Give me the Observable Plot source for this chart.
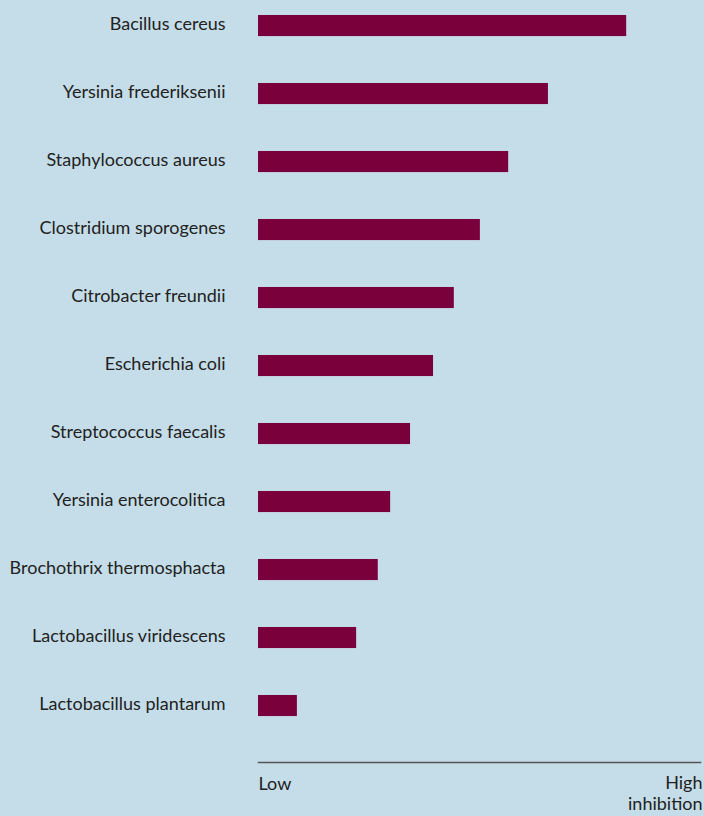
<!DOCTYPE html>
<html>
<head>
<meta charset="utf-8">
<script src="https://cdn.jsdelivr.net/npm/d3@7"></script>
<script src="https://cdn.jsdelivr.net/npm/@observablehq/plot@0.6"></script>
<style>
  html, body { margin: 0; padding: 0; background: #c5dde8; }
  #chart svg { display: block; }
</style>
</head>
<body>
<div id="chart"></div>
<script>
const species = [
  "Bacillus cereus",
  "Yersinia frederiksenii",
  "Staphylococcus aureus",
  "Clostridium sporogenes",
  "Citrobacter freundii",
  "Escherichia coli",
  "Streptococcus faecalis",
  "Yersinia enterocolitica",
  "Brochothrix thermosphacta",
  "Lactobacillus viridescens",
  "Lactobacillus plantarum"
];
const inhibition = [83.3, 65.6, 56.6, 50.2, 44.3, 39.6, 34.4, 29.9, 27.1, 22.2, 8.8];
const lowLabel = [{x: 0, text: "Low"}];
const highLabel = [{x: 100, text: "High\ninhibition"}];

const data = species.map((s, i) => ({species: s, value: inhibition[i]}));

const chart = Plot.plot({
  width: 704,
  height: 816,
  marginLeft: 258,
  marginRight: 4,
  marginTop: 0,
  marginBottom: 54,
  style: {background: "#c5dde8", fontFamily: "Lato, sans-serif", fontSize: "18px", color: "#222"},
  x: {domain: [0, 100], axis: null},
  y: {domain: species, paddingInner: 0.69, paddingOuter: 0.448, align: 0.246, round: false, label: null},
  marks: [
    Plot.barX(data, {y: "species", x: "value", fill: "#7a003c"}),
    Plot.axisY({tickSize: 0, tickPadding: 33, dy: -2, fontSize: 18, fill: "#222", label: null}),
    Plot.frame({anchor: "bottom", stroke: "#555", strokeWidth: 1.5}),
    Plot.text(lowLabel, {x: "x", text: "text", textAnchor: "start", frameAnchor: "bottom", lineAnchor: "top", dy: 15, fontSize: 18, fill: "#222"}),
    Plot.text(highLabel, {x: "x", text: "text", textAnchor: "end", frameAnchor: "bottom", lineAnchor: "top", dx: 2, dy: 12, fontSize: 18, fill: "#222", lineHeight: 1.16})
  ]
});
document.getElementById("chart").appendChild(chart);
</script>
</body>
</html>
